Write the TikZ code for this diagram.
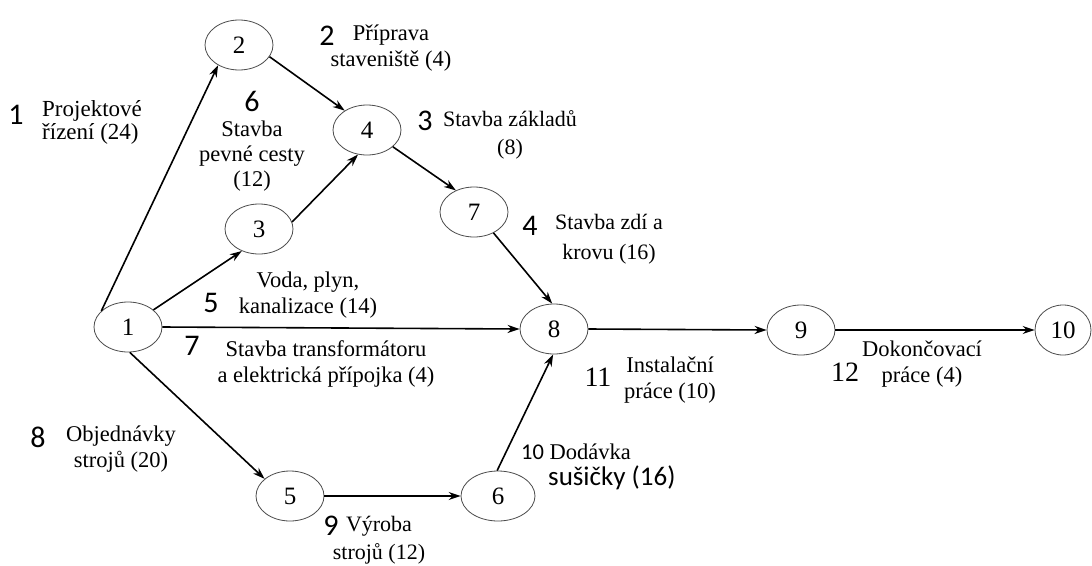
\documentclass[tikz,border=0pt]{standalone}
\usepackage{fontspec}
\setmainfont{Liberation Serif}
\newfontfamily\numf{Carlito}
\usetikzlibrary{shapes.geometric,arrows.meta}
\begin{document}
\begin{tikzpicture}[x=1pt,y=-1pt,
  ev/.style={ellipse,draw=black!70,line width=0.8pt,minimum width=68pt,minimum height=50pt,inner sep=0pt,font=\fontsize{25}{25}\selectfont},
  arr/.style={-{Stealth[length=12pt,width=8pt]},line width=1.6pt},
  num/.style={font=\numf\fontsize{30}{30}\selectfont,inner sep=0pt},
  snum/.style={font=\fontsize{28}{28}\selectfont,inner sep=0pt},
  lab/.style={font=\fontsize{22.5}{26}\selectfont,align=center,inner sep=0pt},
  wide/.style={font=\fontsize{22}{27.5}\selectfont}]
\useasboundingbox (0,0) rectangle (1092,565);
\fill[white] (0,0) rectangle (1092,565);
% events
\node[ev] (n1) at (128,327) {1};
\node[ev] (n2) at (239,45) {2};
\node[ev] (n3) at (259,229) {3};
\node[ev] (n4) at (367,130) {4};
\node[ev] (n7) at (474,212) {7};
\node[ev] (n8) at (554,329) {8};
\node[ev] (n9) at (801,330) {9};
\node[ev,minimum width=56pt] (n10) at (1063,330) {10};
\node[ev] (n5) at (290,496) {5};
\node[ev,minimum width=74pt] (n6) at (498,496) {6};
% activities
\draw[arr] (n1.149) -- (n2.224);
\draw[arr] (n2.339) -- (n4.139);
\draw[arr] (n3.12) -- (n4.250);
\draw[arr] (n4.-33) -- (n7.130);
\draw[arr] (n7.-47) -- (n8.94);
\draw[arr] (n1.34) -- (n3.232);
\draw[arr] (n1.east) -- (n8.west);
\draw[arr] (n1.274) -- (n5.146);
\draw[arr] (n5.east) -- (n6.west);
\draw[arr] (n6.92) -- (n8.268);
\draw[arr] (n8.east) -- (n9.west);
\draw[arr] (n9.east) -- (n10.west);
% labels
\node[num] (k1) at (16,115) {1};
\node[lab,align=left,anchor=west,font=\fontsize{23}{23}\selectfont] (t1) at (42,122) {Projektové\\řízení (24)};
\node[num] (k2) at (327,36) {2};
\node[lab] (t2) at (391,48) {Příprava\\staveniště (4)};
\node[lab,font=\fontsize{22.5}{25}\selectfont] (t6) at (252,141) {{\numf\fontsize{30}{30}\selectfont 6}\\Stavba\\pevné cesty\\(12)};
\node[num] (k3) at (425,121) {3};
\node[lab,wide] (t3) at (510,135) {Stavba základů\\(8)};
\node[num] (k4) at (530,226) {4};
\node[lab,font=\fontsize{22}{29.5}\selectfont] (t4) at (609,239) {Stavba zdí a\\krovu (16)};
\node[num] (k5) at (211,303) {5};
\node[lab] (t5) at (308,295) {Voda, plyn,\\kanalizace (14)};
\node[num] (k7) at (192,346) {7};
\node[lab] (t7) at (326,364) {Stavba transformátoru\\a elektrická přípojka (4)};
\node[num] (k8) at (38,437) {8};
\node[lab] (t8) at (121,449) {Objednávky\\strojů (20)};
\node[num] (k9) at (331,526) {9};
\node[lab,wide] (t9) at (379,540) {Výroba\\strojů (12)};
\node[lab,anchor=west] (t10) at (521,452) {{\numf 10} Dodávka};
\node[lab,anchor=west,font=\numf\fontsize{27}{27}\selectfont] (t10b) at (548,478) {sušičky (16)};
\node[snum] (k11) at (598,377) {11};
\node[lab] (t11) at (670,380) {Instalační\\práce (10)};
\node[snum] (k12) at (845,372) {12};
\node[lab] (t12) at (922,364) {Dokončovací\\práce (4)};
\end{tikzpicture}
\end{document}
